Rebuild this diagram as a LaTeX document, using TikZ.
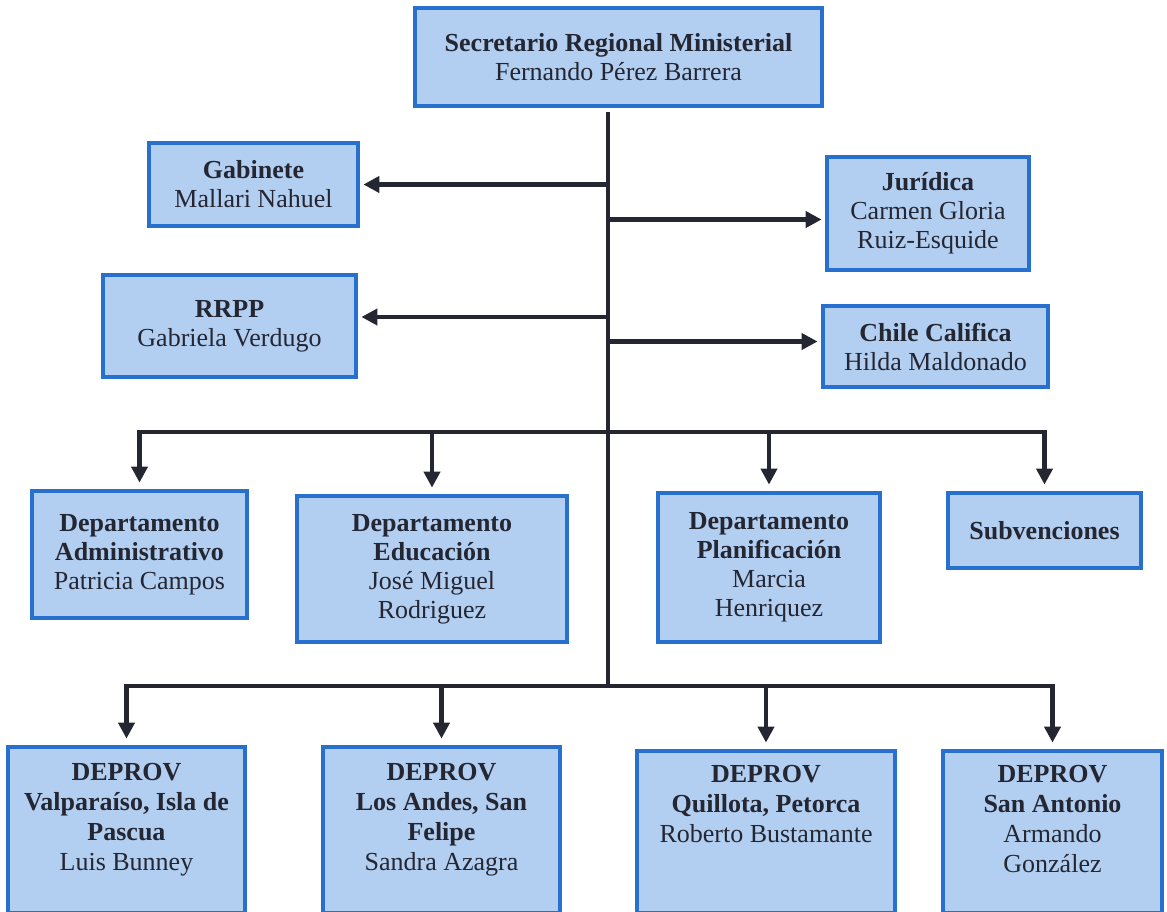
\documentclass[tikz,border=0pt]{standalone}
\usepackage{fontspec}
\setmainfont{Liberation Serif}
\usetikzlibrary{arrows.meta,positioning}
\definecolor{boxfill}{RGB}{178,206,240}
\definecolor{boxline}{RGB}{40,112,206}
\definecolor{ink}{RGB}{36,38,50}
\tikzset{
  unit/.style={draw=boxline, fill=boxfill, line width=2.4pt, inner sep=2pt, align=center,
    font=\fontsize{13}{14.5}\selectfont, text=ink},
  unittext/.style={inner sep=0pt, align=center, font=\fontsize{13}{15}\selectfont, text=ink},
  link/.style={draw=ink, line width=2.1pt},
  arr/.style={link, -{Triangle[length=8pt,width=8pt]}, shorten >=1.5pt}
}
\begin{document}
\begin{tikzpicture}[x=0.5pt,y=-0.5pt]
  \useasboundingbox (0,0) rectangle (1167,911);

  % the head
  \node[unit, minimum width=203.5pt, minimum height=49pt] (sec) at (618.5,57)
    {\textbf{Secretario Regional Ministerial}\\Fernando Pérez Barrera};

  % staff units beside the trunk
  \node[unit, minimum width=104.5pt, minimum height=41.5pt] (gab) at (253.5,184.5)
    {\textbf{Gabinete}\\Mallari Nahuel};
  \node[unit, minimum width=101pt, minimum height=56.5pt] (jur) at (928,213.5)
    {\textbf{Jurídica}\\Carmen Gloria\\Ruiz-Esquide};
  \node[unit, minimum width=126.5pt, minimum height=51pt] (rrpp) at (229.5,326)
    {\textbf{RRPP}\\Gabriela Verdugo};
  \node[unit, minimum width=112.5pt, minimum height=40.5pt] (chile) at (935.5,346.5)
    {\textbf{Chile Califica}\\Hilda Maldonado};

  % departments
  \node[unit, minimum width=107.5pt, minimum height=63.5pt] (adm) at (139.5,554.5)
    {\textbf{Departamento}\\\textbf{Administrativo}\\Patricia Campos};
  \node[unit, minimum width=135pt, minimum height=73pt] (edu) at (432,569)
    {\textbf{Departamento}\\\textbf{Educación}\\José Miguel\\Rodriguez};
  \node[unit, minimum width=111pt, minimum height=74.5pt] (plan) at (769,567.5)
    {\textbf{Departamento}\\\textbf{Planificación}\\Marcia\\Henriquez};
  \node[unit, minimum width=96.5pt, minimum height=37.5pt] (subv) at (1044.5,530.5)
    {\textbf{Subvenciones}};

  % provincial offices, cut by the lower edge
  \node[unit, minimum width=118.5pt, minimum height=83pt] (dv1) at (126.5,830) {};
  \node[unit, minimum width=118.5pt, minimum height=83pt] (dv2) at (441.5,830) {};
  \node[unit, minimum width=129pt, minimum height=81pt] (dv3) at (766,832) {};
  \node[unit, minimum width=109.5pt, minimum height=81pt] (dv4) at (1052.5,832) {};
  \node[unittext, below=9pt of dv1.north] (dv1txt)
    {\textbf{DEPROV}\\\textbf{Valparaíso, Isla de}\\\textbf{Pascua}\\Luis Bunney};
  \node[unittext, below=9pt of dv2.north] (dv2txt)
    {\textbf{DEPROV}\\\textbf{Los Andes, San}\\\textbf{Felipe}\\Sandra Azagra};
  \node[unittext, below=8pt of dv3.north] (dv3txt)
    {\textbf{DEPROV}\\\textbf{Quillota, Petorca}\\Roberto Bustamante};
  \node[unittext, below=8pt of dv4.north] (dv4txt)
    {\textbf{DEPROV}\\\textbf{San Antonio}\\Armando\\González};

  % trunk and buses
  \coordinate (trunktop) at (608,112);
  \coordinate (bus1) at (608,432);
  \coordinate (bus2) at (608,686);
  \draw[link] (trunktop) -- (bus2);
  \draw[link, line cap=rect] (adm.north |- bus1) -- (subv.north |- bus1);
  \draw[link, line cap=rect] (dv1.north |- bus2) -- (dv4.north |- bus2);

  % side arrows
  \coordinate (jurin) at ([yshift=-3pt]jur.west);
  \coordinate (rrppin) at ([yshift=4.5pt]rrpp.east);
  \coordinate (chilein) at ([yshift=2.5pt]chile.west);
  \draw[arr] (trunktop |- gab.east) -- (gab.east);
  \draw[arr] (trunktop |- jurin) -- (jurin);
  \draw[arr] (trunktop |- rrppin) -- (rrppin);
  \draw[arr] (trunktop |- chilein) -- (chilein);

  % drops
  \foreach \n in {adm,edu,plan,subv}
    \draw[arr, shorten >=3pt] (\n.north |- bus1) -- (\n.north);
  \foreach \n in {dv1,dv2,dv3,dv4}
    \draw[arr, shorten >=3pt] (\n.north |- bus2) -- (\n.north);
\end{tikzpicture}
\end{document}
